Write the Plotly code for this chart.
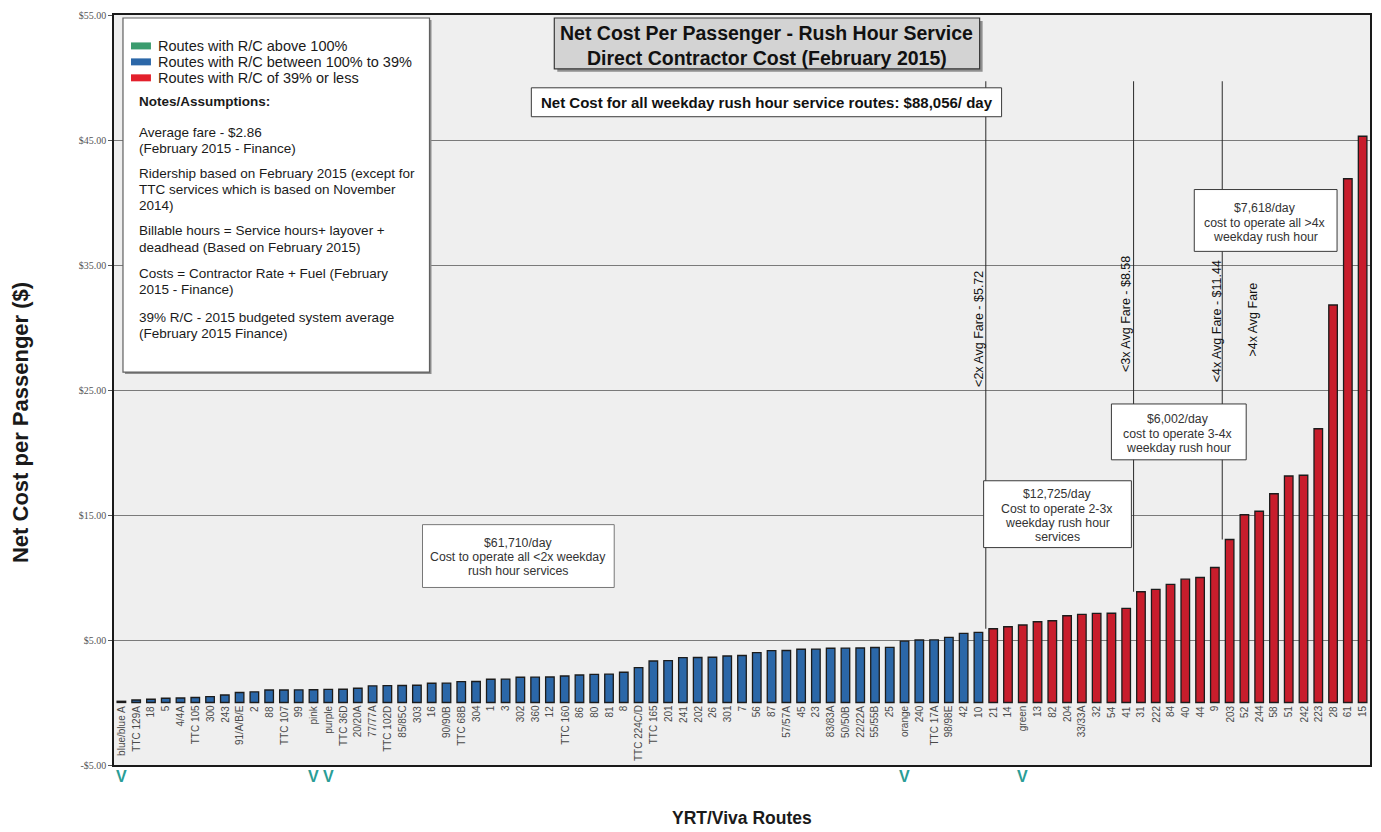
import plotly.graph_objects as go

# ---------------------------------------------------------------- data
routes = [
    "blue/blue A", "TTC 129A", "18", "5", "4/4A", "TTC 105", "300", "243", "91/A/B/E", "2",
    "88", "TTC 107", "99", "pink", "purple", "TTC 36D", "20/20A", "77/77A", "TTC 102D", "85/85C",
    "303", "16", "90/90B", "TTC 68B", "304", "1", "3", "302", "360", "12",
    "TTC 160", "86", "80", "81", "8", "TTC 224C/D", "TTC 165", "201", "241", "202",
    "26", "301", "7", "56", "87", "57/57A", "45", "23", "83/83A", "50/50B",
    "22/22A", "55/55B", "25", "orange", "240", "TTC 17A", "98/98E", "42", "10", "21",
    "14", "green", "13", "82", "204", "33/33A", "32", "54", "41", "31",
    "222", "84", "40", "44", "9", "203", "52", "244", "58", "51",
    "242", "223", "28", "61", "15",
]

net_cost = [
    0.10, 0.20, 0.26, 0.34, 0.36, 0.40, 0.47, 0.60, 0.80, 0.85,
    1.00, 1.00, 1.01, 1.02, 1.05, 1.06, 1.14, 1.33, 1.35, 1.36,
    1.38, 1.54, 1.55, 1.67, 1.68, 1.86, 1.87, 2.02, 2.03, 2.04,
    2.12, 2.20, 2.25, 2.27, 2.42, 2.79, 3.32, 3.35, 3.59, 3.60,
    3.62, 3.72, 3.76, 3.99, 4.15, 4.16, 4.26, 4.27, 4.34, 4.35,
    4.36, 4.40, 4.41, 4.91, 5.00, 5.01, 5.21, 5.53, 5.61, 5.90,
    6.06, 6.20, 6.46, 6.54, 6.94, 7.05, 7.13, 7.14, 7.53, 8.86,
    9.05, 9.45, 9.87, 10.00, 10.80, 13.04, 15.02, 15.30, 16.70, 18.12,
    18.18, 21.90, 31.80, 41.90, 45.30,
]

# R/C class of each route
rc_class = ["between"] * 59 + ["low"] * 26

viva_routes = ["blue/blue A", "pink", "purple", "orange", "green"]

avg_fare = 2.86
fare_multiples = [2, 3, 4]

y_tick_vals = [55, 45, 35, 25, 15, 5, -5]
y_tick_text = ["$55.00", "$45.00", "$35.00", "$25.00", "$15.00", "$5.00", "-$5.00"]

legend_items = [
    ("Routes with R/C above 100%", "above"),
    ("Routes with R/C between 100% to 39%", "between"),
    ("Routes with R/C of 39% or less", "low"),
]

notes_lines = [
    ("<b>Notes/Assumptions:</b>", 100),
    ("Average fare - $2.86", 131),
    ("(February 2015 - Finance)", 147),
    ("Ridership based on February 2015 (except for", 172),
    ("TTC services which is based on November", 188),
    ("2014)", 204),
    ("Billable hours = Service hours+ layover +", 229),
    ("deadhead (Based on February 2015)", 246),
    ("Costs = Contractor Rate + Fuel (February", 272),
    ("2015 - Finance)", 288),
    ("39% R/C - 2015 budgeted system average", 316),
    ("(February 2015 Finance)", 332),
]

# ---------------------------------------------------------------- styling
W, H = 1381, 832
L, R, T, B = 114, 9, 13, 67
PW, PH = W - L - R, H - T - B

FONT = "Liberation Sans, Arial, sans-serif"
class_colors = {"above": "#3a9c6e", "between": "#2b67a8", "low": "#c81d2c"}
swatch_colors = {"above": "#3a9c6e", "between": "#2b67a8", "low": "#e3202c"}


def px(xp):
    """pixel column -> paper x"""
    return (xp - L) / PW


def py(yp):
    """pixel row -> paper y"""
    return (H - B - yp) / PH


fig = go.Figure()

fig.add_trace(go.Bar(
    x=routes,
    y=net_cost,
    width=0.58,
    marker=dict(color=[class_colors[c] for c in rc_class],
                line=dict(color="#1c1c1c", width=1.3)),
    showlegend=False,
    hovertemplate="%{x}: $%{y:.2f}<extra></extra>",
))

shapes = []
annotations = []

# route labels sitting just under the $0 line (placed by category index)
for i, r in enumerate(routes):
    annotations.append(dict(
        x=i, y=0, xref="x", yref="y", text=r, showarrow=False,
        textangle=-90, xanchor="center", yanchor="top", yshift=-1,
        font=dict(family=FONT, size=10, color="#4a4a4a"),
    ))

# Viva route markers under the axis
for r in viva_routes:
    annotations.append(dict(
        x=routes.index(r), y=py(777), xref="x", yref="paper", text="<b>V</b>",
        showarrow=False, xanchor="center", yanchor="middle",
        font=dict(family=FONT, size=16, color="#2a9d96"),
    ))

# fare-multiple divider lines
line_top = 49.7
split_idx = []
for m in fare_multiples:
    thr = m * avg_fare
    idx = next(i for i, v in enumerate(net_cost) if v > thr)
    split_idx.append(idx)
    shapes.append(dict(type="line", xref="x", yref="y",
                       x0=idx - 0.5, x1=idx - 0.5, y0=net_cost[idx], y1=line_top,
                       line=dict(color="#2a2a2a", width=1)))

fare_labels = [
    (split_idx[0] - 0.95, 29.9, f"&lt;2x Avg Fare - ${2 * avg_fare:.2f}"),
    (split_idx[1] - 1.0, 31.1, f"&lt;3x Avg Fare - ${3 * avg_fare:.2f}"),
    (split_idx[2] - 0.85, 30.5, f"&lt;4x Avg Fare - ${4 * avg_fare:.2f}"),
    (split_idx[2] + 1.55, 30.6, "&gt;4x Avg Fare"),
]
for xpos, ypos, txt in fare_labels:
    annotations.append(dict(
        x=xpos, y=ypos, xref="x", yref="y", text=txt, showarrow=False,
        textangle=-90, xanchor="center", yanchor="middle",
        font=dict(family=FONT, size=12.5, color="#111"),
    ))


def box(x0, y0, x1, y1, fill="white", border="#3a3a3a", width=1, shadow=None):
    if shadow:
        shapes.append(dict(type="rect", xref="paper", yref="paper",
                           x0=px(x0 + shadow), x1=px(x1 + shadow),
                           y0=py(y1 + shadow), y1=py(y0 + shadow),
                           fillcolor="#8f8f8f", line=dict(width=0), layer="above"))
    shapes.append(dict(type="rect", xref="paper", yref="paper",
                       x0=px(x0), x1=px(x1), y0=py(y1), y1=py(y0),
                       fillcolor=fill, line=dict(color=border, width=width), layer="above"))


def text(xp, yp, t, size=12.3, color="#333", bold=False, xanchor="center"):
    annotations.append(dict(
        x=px(xp), y=py(yp), xref="paper", yref="paper",
        text=f"<b>{t}</b>" if bold else t, showarrow=False,
        xanchor=xanchor, yanchor="middle",
        font=dict(family=FONT, size=size, color=color),
    ))


# title block
box(555, 16, 981, 67, fill="#d3d3d3", border="#3a3a3a", width=1.2, shadow=3)
text(768, 31, "Net Cost Per Passenger - Rush Hour Service", size=19.5, color="#111", bold=True)
text(768, 56, "Direct Contractor Cost (February 2015)", size=19.5, color="#111", bold=True)

# overall net cost
box(532, 86, 1003, 115, border="#3a3a3a", width=1)
text(768, 100.5, "Net Cost for all weekday rush hour service routes: $88,056/ day",
     size=15, color="#111", bold=True)

# legend + notes panel
box(123, 16, 430, 371, border="#606060", width=1.2, shadow=2)
for i, (label, cls) in enumerate(legend_items):
    yc = 44 + 16 * i
    shapes.append(dict(type="rect", xref="paper", yref="paper",
                       x0=px(131), x1=px(151), y0=py(yc + 3.5), y1=py(yc - 3.5),
                       fillcolor=swatch_colors[cls], line=dict(width=0), layer="above"))
    text(156, yc, label, size=14.5, color="#1a1a1a", xanchor="left")
for line, yc in notes_lines:
    text(137, yc, line, size=13.5, color="#1a1a1a", xanchor="left")

# cost-band boxes
box(423, 524, 615, 587, border="#777", width=1)
text(519, 542, "$61,710/day")
text(519, 556, "Cost to operate all &lt;2x weekday")
text(519, 570, "rush hour services")

box(985, 480, 1133, 547, border="#3a3a3a", width=1)
text(1059, 493, "$12,725/day")
text(1059, 508, "Cost to operate 2-3x")
text(1059, 522, "weekday rush hour")
text(1059, 536, "services")

box(1113, 403, 1248, 459, border="#3a3a3a", width=1)
text(1180, 418, "$6,002/day")
text(1180, 433, "cost to operate 3-4x")
text(1180, 447, "weekday rush hour")

box(1196, 188, 1339, 250, border="#3a3a3a", width=1)
text(1267, 207, "$7,618/day")
text(1267, 222, "cost to operate all &gt;4x")
text(1267, 236, "weekday rush hour")

# axis titles
text(743, 818, "YRT/Viva Routes", size=17.5, color="#1a1a1a", bold=True)
annotations.append(dict(
    x=px(21), y=py(422), xref="paper", yref="paper",
    text="<b>Net Cost per Passenger ($)</b>", showarrow=False, textangle=-90,
    xanchor="center", yanchor="middle", font=dict(family=FONT, size=22, color="#1a1a1a"),
))

fig.update_layout(
    width=W, height=H,
    margin=dict(l=L, r=R, t=T, b=B),
    paper_bgcolor="white",
    plot_bgcolor="#efefef",
    font=dict(family=FONT),
    shapes=shapes,
    annotations=annotations,
    xaxis=dict(
        type="category", range=[-0.5, len(routes) - 0.5],
        showticklabels=False, ticks="", showgrid=False,
        showline=True, mirror=True, linecolor="#1a1a1a", linewidth=1.5,
        fixedrange=True,
    ),
    yaxis=dict(
        range=[-5, 55], tickvals=y_tick_vals, ticktext=y_tick_text,
        tickfont=dict(family="Liberation Serif, Times New Roman, serif", size=10, color="#555"),
        ticks="outside", ticklen=4, tickcolor="#555",
        showgrid=True, gridcolor="#7a7a7a", gridwidth=1,
        zeroline=False,
        showline=True, mirror=True, linecolor="#1a1a1a", linewidth=1.5,
        fixedrange=True,
    ),
)

fig.write_html("out.html", config={"displayModeBar": False})
